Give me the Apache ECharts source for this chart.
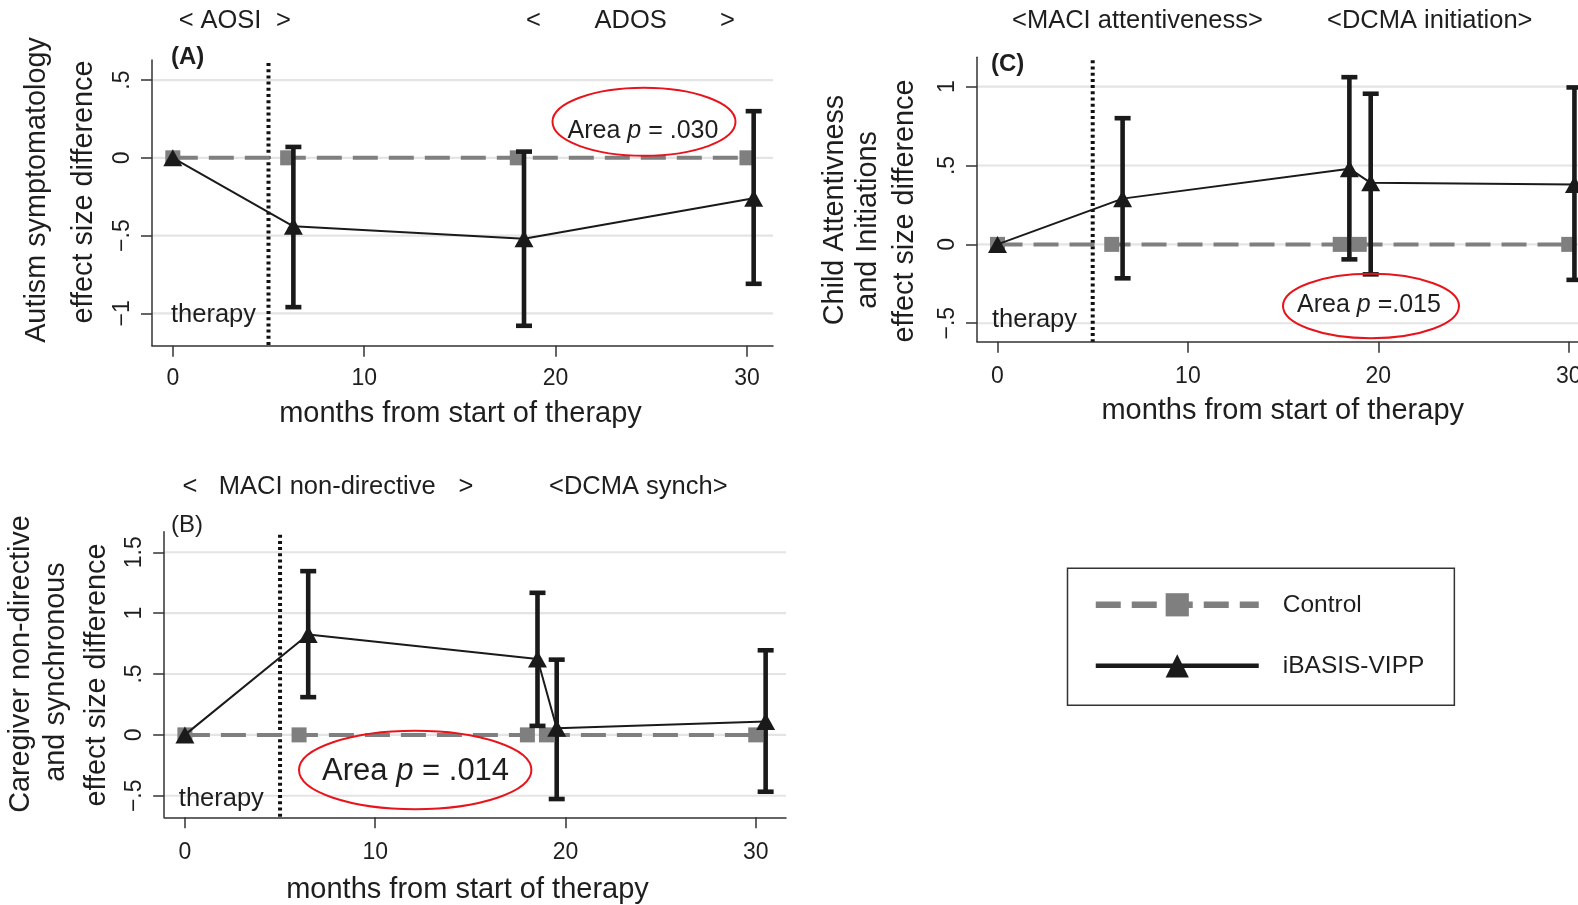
<!DOCTYPE html>
<html><head><meta charset="utf-8">
<script src="https://cdn.jsdelivr.net/npm/echarts@6/dist/echarts.min.js"></script>
<style>html,body{margin:0;padding:0;background:#fff;}#c{width:1578px;height:905px;}</style>
</head><body><div id="c"></div>
<script>
// ================= DATA =================
const xTicks = [0, 10, 20, 30];
const xTickLabels = ['0', '10', '20', '30'];
const therapyStart = 5;

// Panel A – Autism symptomatology
const ctrlA_x = [0, 6, 18, 30];
const ctrlA_y = [0, 0, 0, 0];
const ibaA_x = [0, 6.3, 18.35, 30.35];
const ibaA_y = [0, -0.44, -0.52, -0.26];
const ibaA_lo = [null, -0.96, -1.08, -0.81];
const ibaA_hi = [null, 0.07, 0.04, 0.30];
const yTicksA = [-1, -0.5, 0, 0.5];
const yTickLabelsA = ['−1', '−.5', '0', '.5'];

// Panel C – Child attentiveness and initiations
const ctrlC_x = [0, 6, 18, 19, 30];
const ctrlC_y = [0, 0, 0, 0, 0];
const ibaC_x = [0, 6.57, 18.48, 19.6, 30.3];
const ibaC_y = [0, 0.29, 0.48, 0.39, 0.38];
const ibaC_lo = [null, -0.215, -0.095, -0.19, -0.225];
const ibaC_hi = [null, 0.80, 1.06, 0.955, 0.995];
const yTicksC = [-0.5, 0, 0.5, 1];
const yTickLabelsC = ['−.5', '0', '.5', '1'];

// Panel B – Caregiver non-directive and synchronous
const ctrlB_x = [0, 6, 18, 19, 30];
const ctrlB_y = [0, 0, 0, 0, 0];
const ibaB_x = [0, 6.48, 18.53, 19.54, 30.52];
const ibaB_y = [0, 0.824, 0.623, 0.055, 0.11];
const ibaB_lo = [null, 0.31, 0.074, -0.527, -0.467];
const ibaB_hi = [null, 1.345, 1.167, 0.618, 0.695];
const yTicksB = [-0.5, 0, 0.5, 1, 1.5];
const yTickLabelsB = ['−.5', '0', '.5', '1', '1.5'];

const xTitle = 'months from start of therapy';
const seriesNames = ['Control', 'iBASIS-VIPP'];
// ========================================

const FONT = '"Liberation Sans", Arial, Helvetica, sans-serif';
const TXT = '#1e1e1e';
const GRAY = '#7f7f7f';
const BLACK = '#1a1a1a';
const RED = '#e8141c';

const panels = [
  { grid: {left: 152, top: 60, width: 621, height: 285.7}, xMin: -1.087, xMax: 31.36, yMin: -1.208, yMax: 0.629, xm: 21,
    cx: ctrlA_x, cy: ctrlA_y, ix: ibaA_x, iy: ibaA_y, lo: ibaA_lo, hi: ibaA_hi, yt: yTicksA, yl: yTickLabelsA },
  { grid: {left: 977, top: 57.3, width: 618, height: 284.4}, xMin: -1.077, xMax: 31.38, yMin: -0.617, yMax: 1.186, xm: 23,
    cx: ctrlC_x, cy: ctrlC_y, ix: ibaC_x, iy: ibaC_y, lo: ibaC_lo, hi: ibaC_hi, yt: yTicksC, yl: yTickLabelsC },
  { grid: {left: 164.2, top: 531.7, width: 621.8, height: 285.6}, xMin: -1.088, xMax: 31.59, yMin: -0.677, yMax: 1.669, xm: 24,
    cx: ctrlB_x, cy: ctrlB_y, ix: ibaB_x, iy: ibaB_y, lo: ibaB_lo, hi: ibaB_hi, yt: yTicksB, yl: yTickLabelsB }
];

const zip = (a, b) => a.map((v, i) => [v, b[i]]);

function gridRender(params, api) {
  const cs = params.coordSys;
  const y = api.coord([0, api.value(1)])[1];
  return { type: 'line', shape: {x1: cs.x, y1: y, x2: cs.x + cs.width, y2: y},
           style: {stroke: '#e4e4e4', lineWidth: 2.2} };
}
function therapyRender(params, api) {
  const cs = params.coordSys;
  const x = api.coord([api.value(0), 0])[0];
  return { type: 'line', shape: {x1: x, y1: cs.y + 3, x2: x, y2: cs.y + cs.height},
           style: {stroke: '#111', lineWidth: 4, lineDash: [3, 3.2]} };
}
function errRender(params, api) {
  const x = api.value(0);
  const pHi = api.coord([x, api.value(2)]);
  const pLo = api.coord([x, api.value(1)]);
  const cw = 8;
  const st = {stroke: BLACK, lineWidth: 4.6};
  return { type: 'group', children: [
    {type: 'line', shape: {x1: pHi[0], y1: pHi[1], x2: pLo[0], y2: pLo[1]}, style: st},
    {type: 'line', shape: {x1: pHi[0] - cw, y1: pHi[1], x2: pHi[0] + cw, y2: pHi[1]}, style: st},
    {type: 'line', shape: {x1: pLo[0] - cw, y1: pLo[1], x2: pLo[0] + cw, y2: pLo[1]}, style: st}
  ]};
}

const grids = [], xAxes = [], yAxes = [], series = [];
panels.forEach((p, i) => {
  grids.push(Object.assign({containLabel: false, outerBoundsMode: 'none'}, p.grid));
  xAxes.push({
    gridIndex: i, type: 'value', min: p.xMin, max: p.xMax,
    axisLine: {show: true, onZero: false, lineStyle: {color: '#333', width: 1.5}},
    axisTick: {show: true, length: 11, customValues: xTicks, lineStyle: {color: '#333', width: 1.5}},
    axisLabel: {customValues: xTicks, margin: p.xm, fontSize: 23, color: TXT, fontFamily: FONT,
                formatter: v => xTickLabels[xTicks.indexOf(v)]},
    splitLine: {show: false}
  });
  yAxes.push({
    gridIndex: i, type: 'value', min: p.yMin, max: p.yMax,
    axisLine: {show: true, onZero: false, lineStyle: {color: '#333', width: 1.5}},
    axisTick: {show: true, length: 11, customValues: p.yt, lineStyle: {color: '#333', width: 1.5}},
    axisLabel: {customValues: p.yt, rotate: 90, margin: 18, fontSize: 23, color: TXT, fontFamily: FONT,
                formatter: v => p.yl[p.yt.indexOf(v)]},
    splitLine: {show: false}
  });
  series.push({ type: 'custom', xAxisIndex: i, yAxisIndex: i, silent: true, z: 0,
    data: p.yt.map(v => [0, v]), encode: {x: 0, y: 1}, renderItem: gridRender });
  series.push({ type: 'custom', xAxisIndex: i, yAxisIndex: i, silent: true, z: 1,
    data: [[therapyStart, 0]], encode: {x: 0, y: 1}, renderItem: therapyRender });
  series.push({ name: seriesNames[0], type: 'line', xAxisIndex: i, yAxisIndex: i, z: 3,
    data: zip(p.cx, p.cy), symbol: 'rect', symbolSize: 15, showSymbol: true,
    lineStyle: {color: GRAY, width: 4, type: [25, 11]}, itemStyle: {color: GRAY} });
  series.push({ name: seriesNames[1], type: 'line', xAxisIndex: i, yAxisIndex: i, z: 4,
    data: zip(p.ix, p.iy), symbol: 'triangle', symbolSize: [19, 17], showSymbol: true,
    lineStyle: {color: BLACK, width: 2}, itemStyle: {color: BLACK} });
  series.push({ type: 'custom', xAxisIndex: i, yAxisIndex: i, silent: true, z: 5,
    data: p.ix.map((x, k) => [x, p.lo[k], p.hi[k]]).filter(r => r[1] !== null),
    encode: {x: 0, y: [1, 2]}, renderItem: errRender });
});

function txt(text, x, y, size, o) {
  o = o || {};
  return { type: 'text', x: x, y: y, rotation: o.rot || 0, z: 20, silent: true,
    style: { text: text, fill: TXT, fontSize: size, fontFamily: FONT, fontWeight: o.bold ? 'bold' : 'normal',
             align: o.align || 'left', verticalAlign: 'middle', rich: o.rich } };
}
const R = Math.PI / 2;
const richP = (s) => ({ i: {fontStyle: 'italic', fontSize: s, fontFamily: FONT, fill: TXT} });

const graphics = [
  // top measure labels
  txt('<', 178.8, 20.5, 25.5), txt('AOSI', 200.5, 20.5, 25.5), txt('>', 276, 20.5, 25.5),
  txt('<', 526, 20.5, 25.5), txt('ADOS', 594.5, 20.5, 25.5), txt('>', 720, 20.5, 25.5),
  txt('<MACI attentiveness>', 1012, 20.5, 25.5), txt('<DCMA initiation>', 1327, 20.5, 25.5),
  txt('<', 182.4, 487, 25.5), txt('MACI non-directive', 218.8, 487, 25.5), txt('>', 458.4, 487, 25.5),
  txt('<DCMA synch>', 549, 487, 25.5),
  // panel letters
  txt('(A)', 171, 57.5, 24, {bold: true}), txt('(C)', 991, 64, 24, {bold: true}), txt('(B)', 171, 525, 24),
  // therapy labels
  txt('therapy', 171, 314.5, 25.5), txt('therapy', 992, 320, 25.5), txt('therapy', 178.8, 798.5, 25.5),
  // x titles
  txt(xTitle, 460.5, 414, 29, {align: 'center'}),
  txt(xTitle, 1282.7, 411, 29, {align: 'center'}),
  txt(xTitle, 467.5, 889.5, 29, {align: 'center'}),
  // y titles
  txt('Autism symptomatology', 37, 190, 28.8, {align: 'center', rot: R}),
  txt('effect size difference', 84, 192, 28.8, {align: 'center', rot: R}),
  txt('Child Attentivness', 835, 210, 28.8, {align: 'center', rot: R}),
  txt('and Initiations', 868, 220, 28.8, {align: 'center', rot: R}),
  txt('effect size difference', 905, 211, 28.8, {align: 'center', rot: R}),
  txt('Caregiver non-directive', 21, 664, 28.8, {align: 'center', rot: R}),
  txt('and synchronous', 56, 672, 28.8, {align: 'center', rot: R}),
  txt('effect size difference', 97, 675, 28.8, {align: 'center', rot: R}),
  // area annotations
  {type: 'ellipse', z: 19, silent: true, shape: {cx: 644, cy: 121.8, rx: 91.5, ry: 34},
   style: {fill: 'none', stroke: RED, lineWidth: 2}},
  txt('Area {i|p} = .030', 643, 131, 25, {align: 'center', rich: richP(25)}),
  {type: 'ellipse', z: 19, silent: true, shape: {cx: 1371, cy: 306, rx: 88, ry: 32.2},
   style: {fill: 'none', stroke: RED, lineWidth: 2}},
  txt('Area {i|p} =.015', 1369, 305, 25, {align: 'center', rich: richP(25)}),
  {type: 'ellipse', z: 19, silent: true, shape: {cx: 415.2, cy: 770, rx: 116.2, ry: 39.2},
   style: {fill: 'none', stroke: RED, lineWidth: 2}},
  txt('Area {i|p} = .014', 415.6, 771.5, 31, {align: 'center', rich: richP(31)})
];

const chart = echarts.init(document.getElementById('c'), null, {renderer: 'canvas'});
chart.setOption({
  animation: false,
  backgroundColor: '#fff',
  textStyle: {fontFamily: FONT},
  grid: grids, xAxis: xAxes, yAxis: yAxes, series: series,
  legend: {
    orient: 'vertical', left: 1067.5, top: 568.3,
    padding: [24, 30, 27, 25],
    itemWidth: 163, itemHeight: 29, itemGap: 36,
    borderColor: '#333', borderWidth: 1.5, borderRadius: 0,
    selectedMode: false,
    textStyle: {fontSize: 24.5, color: TXT, fontFamily: FONT, padding: [0, 0, 0, 19]},
    data: [
      {name: seriesNames[0], lineStyle: {width: 6.5}},
      {name: seriesNames[1], lineStyle: {width: 4.5}}
    ]
  },
  graphic: graphics
});
</script></body></html>
